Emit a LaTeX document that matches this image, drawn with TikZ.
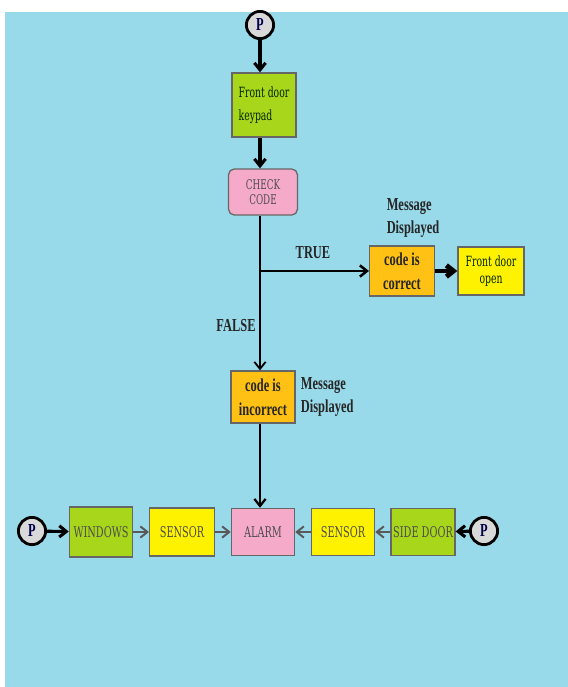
\documentclass[tikz,border=0pt]{standalone}
\usepackage{fontspec}
\setmainfont{Liberation Serif}
\newfontfamily\slabfont[FakeStretch=0.66]{DejaVu Serif}
\newfontfamily\tallfont[FakeStretch=0.68]{Liberation Serif}
\usetikzlibrary{arrows.meta, positioning}
\definecolor{skyback}{HTML}{98D9EA}
\definecolor{limebox}{HTML}{A8D61A}
\definecolor{pinkbox}{HTML}{F6AACA}
\definecolor{orangebox}{HTML}{FFC114}
\definecolor{yellowbox}{HTML}{FFF200}
\definecolor{pgray}{HTML}{D9D9D9}
\colorlet{slabtext}{black!70}
\colorlet{olivetext}{black!75!green!60!black}

\begin{document}
\begin{tikzpicture}[x=0.025cm, y=-0.025cm, >={Straight Barb[length=5pt, width=8pt]},
    box/.style={draw=black!60, line width=0.9pt, inner sep=1pt, align=center,
      font=\slabfont\fontsize{10.5}{12}\selectfont, text=slabtext},
    greenbox/.style={box, fill=limebox},
    pinkbox/.style={box, fill=pinkbox},
    yellowbox/.style={box, fill=yellowbox},
    orangebox/.style={box, fill=orangebox, text=black!85,
      font=\tallfont\bfseries\fontsize{13}{17}\selectfont},
    pcircle/.style={circle, draw=black, line width=2pt, fill=pgray, inner sep=0pt,
      minimum size=0.68cm, font=\tallfont\bfseries\fontsize{13}{13}\selectfont, text=black!70!blue},
    lbl/.style={font=\tallfont\bfseries\fontsize{13}{17}\selectfont, text=black!85, align=left},
    thickarrow/.style={->, line width=2.2pt},
    grayarrow/.style={->, line width=1.4pt, draw=black!65}]
  \useasboundingbox (0,0) rectangle (568,687);
  \fill[skyback] (5,12) rectangle (568,687);

  % top branch
  \node[pcircle] (ptop) at (260,25) {P};
  \node[greenbox, minimum width=1.6cm, minimum height=1.6cm, align=left, text=olivetext,
    font=\slabfont\fontsize{10}{16}\selectfont] (keypad) at (264,105) {Front door\\keypad};
  \node[pinkbox, rounded corners=4pt, minimum width=1.72cm, minimum height=1.15cm,
    font=\slabfont\fontsize{9.5}{11}\selectfont] (check) at (263,192) {CHECK\\CODE};
  \coordinate (split) at (260,271);
  \node[lbl] (truelbl) at (313,253) {TRUE};
  \node[orangebox, minimum width=1.62cm, minimum height=1.25cm] (correct) at (402,271) {code is\\correct};
  \node[lbl] (msgtrue) at (413,218) {Message\\Displayed};
  \node[yellowbox, minimum width=1.65cm, minimum height=1.2cm, text=olivetext,
    font=\slabfont\fontsize{10}{12}\selectfont] (open) at (491,271) {Front door\\open};

  \node[lbl] (falselbl) at (236,326) {FALSE};
  \node[orangebox, minimum width=1.6cm, minimum height=1.3cm] (incorrect) at (263,397) {code is\\incorrect};
  \node[lbl, anchor=west] (msgfalse) at (296,397) {Message\\Displayed};

  % bottom row
  \node[pcircle] (pleft) at (32,531) {P};
  \node[greenbox, minimum width=1.58cm, minimum height=1.25cm] (windows) at (101,532) {WINDOWS};
  \node[yellowbox, minimum width=1.62cm, minimum height=1.2cm] (sensorl) at (182,532) {SENSOR};
  \node[pinkbox, minimum width=1.58cm, minimum height=1.18cm] (alarm) at (263,532) {ALARM};
  \node[yellowbox, minimum width=1.58cm, minimum height=1.18cm] (sensorr) at (343,532) {SENSOR};
  \node[greenbox, minimum width=1.6cm, minimum height=1.18cm] (sidedoor) at (423,532) {SIDE DOOR};
  \node[pcircle] (pright) at (484,531) {P};

  \draw[thickarrow] (ptop) -- (ptop |- keypad.north);
  \draw[thickarrow] (keypad.south -| ptop) -- (check.north -| ptop);
  \draw[->, line width=1.3pt] (check.south -| ptop) -- (incorrect.north -| ptop);
  \draw[->, line width=1.8pt] (split) -- (correct.west |- split);
  \draw[->, line width=3.5pt] (correct) -- (open);
  \draw[->, line width=1.6pt] (incorrect.south -| ptop) -- (alarm.north -| ptop);

  \draw[thickarrow] (pleft) -- (windows);
  \draw[grayarrow] (windows) -- (sensorl);
  \draw[grayarrow] (sensorl) -- (alarm);
  \draw[thickarrow] (pright) -- (sidedoor);
  \draw[grayarrow] (sidedoor) -- (sensorr);
  \draw[grayarrow] (sensorr) -- (alarm);
\end{tikzpicture}
\end{document}
